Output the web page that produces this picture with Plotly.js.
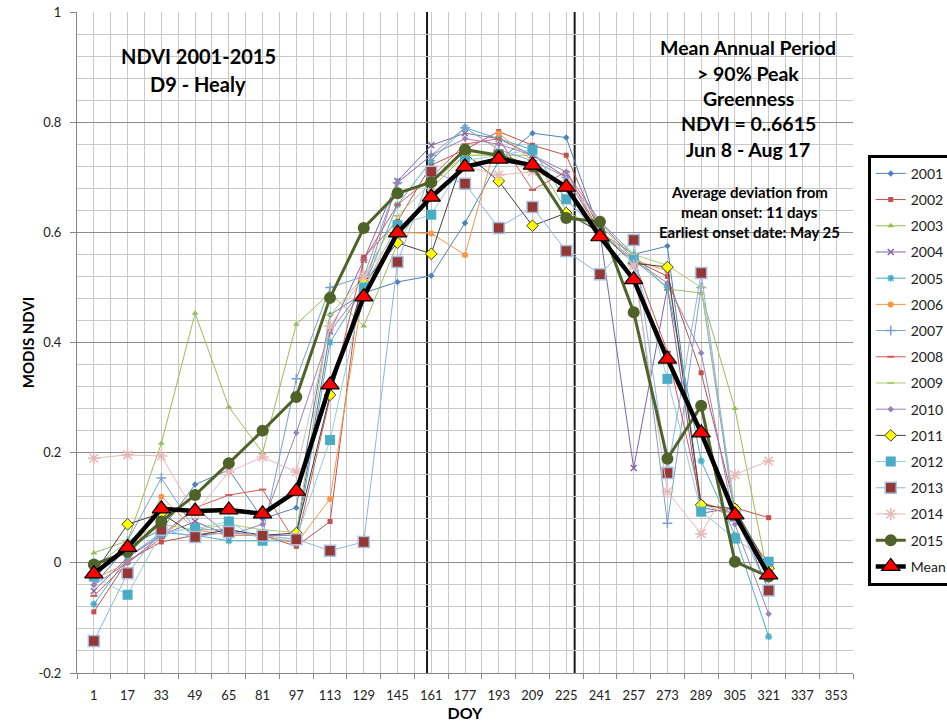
<!DOCTYPE html>
<html>
<head>
<meta charset="utf-8">
<script src="https://cdn.plot.ly/plotly-3.0.1.min.js"></script>
<style>
  html, body { margin: 0; padding: 0; background: #ffffff; }
  #chart { width: 947px; height: 725px; }
</style>
</head>
<body>
<div id="chart"></div>
<script>
// 16-day MODIS composites, day of year
const doy = [1, 17, 33, 49, 65, 81, 97, 113, 129, 145, 161, 177, 193, 209, 225, 241, 257, 273, 289, 305, 321];

// Category labels shown along the DOY axis
const xTickVals = [1, 17, 33, 49, 65, 81, 97, 113, 129, 145, 161, 177, 193, 209, 225, 241, 257, 273, 289, 305, 321, 337, 353];
const yTickVals = [-0.2, 0, 0.2, 0.4, 0.6, 0.8, 1];
const yTickText = ['-0.2', '0', '0.2', '0.4', '0.6', '0.8', '1'];

// NDVI per year
const ndvi2001 = [-0.04, 0.03, 0.06, 0.142, 0.169, 0.08, 0.10, 0.45, 0.49, 0.51, 0.521, 0.617, 0.73, 0.78, 0.772, 0.60, 0.56, 0.575, 0.10, 0.09, -0.02];
const ndvi2002 = [-0.089, 0.004, 0.038, 0.05, 0.055, 0.05, 0.03, 0.075, 0.555, 0.62, 0.722, 0.75, 0.783, 0.758, 0.74, 0.60, 0.55, 0.52, 0.345, 0.10, 0.082];
const ndvi2003 = [0.018, 0.04, 0.217, 0.453, 0.283, 0.20, 0.433, 0.49, 0.43, 0.58, 0.68, 0.74, 0.74, 0.74, 0.64, 0.60, 0.56, 0.497, 0.49, 0.28, -0.03];
const ndvi2004 = [-0.051, 0.01, 0.05, 0.075, 0.05, 0.05, 0.05, 0.42, 0.55, 0.693, 0.758, 0.78, 0.77, 0.74, 0.70, 0.60, 0.172, 0.50, 0.09, 0.10, -0.05];
const ndvi2005 = [-0.075, 0.01, 0.055, 0.05, 0.04, 0.04, 0.04, 0.40, 0.50, 0.65, 0.73, 0.79, 0.77, 0.75, 0.659, 0.60, 0.55, 0.50, 0.185, 0.05, -0.134];
const ndvi2006 = [-0.03, 0.0, 0.12, 0.06, 0.05, 0.05, 0.035, 0.116, 0.50, 0.60, 0.598, 0.559, 0.78, 0.73, 0.68, 0.60, 0.55, 0.53, 0.11, 0.08, 0.0];
const ndvi2007 = [-0.03, 0.04, 0.154, 0.06, 0.06, 0.05, 0.334, 0.50, 0.52, 0.69, 0.74, 0.79, 0.75, 0.73, 0.70, 0.62, 0.56, 0.072, 0.50, 0.08, -0.02];
const ndvi2008 = [-0.06, 0.0, 0.045, 0.10, 0.123, 0.133, 0.035, 0.30, 0.55, 0.65, 0.70, 0.76, 0.77, 0.677, 0.71, 0.60, 0.55, 0.383, 0.11, 0.09, -0.03];
const ndvi2009 = [-0.01, 0.04, 0.07, 0.06, 0.07, 0.06, 0.055, 0.45, 0.52, 0.63, 0.69, 0.74, 0.74, 0.72, 0.68, 0.61, 0.56, 0.54, 0.50, 0.10, -0.03];
const ndvi2010 = [-0.04, 0.0, 0.05, 0.10, 0.05, 0.07, 0.236, 0.42, 0.50, 0.69, 0.74, 0.77, 0.76, 0.74, 0.71, 0.62, 0.55, 0.508, 0.381, 0.07, -0.093];
const ndvi2011 = [-0.02, 0.07, 0.09, 0.05, 0.06, 0.05, 0.054, 0.305, 0.508, 0.581, 0.561, 0.744, 0.693, 0.612, 0.635, 0.60, 0.544, 0.537, 0.105, 0.098, -0.01];
const ndvi2012 = [-0.025, -0.058, 0.055, 0.062, 0.075, 0.04, 0.045, 0.223, 0.50, 0.613, 0.632, 0.73, 0.74, 0.75, 0.66, 0.60, 0.55, 0.334, 0.093, 0.044, 0.002];
const ndvi2013 = [-0.142, -0.019, 0.06, 0.047, 0.056, 0.049, 0.043, 0.022, 0.038, 0.546, 0.71, 0.688, 0.608, 0.646, 0.566, 0.524, 0.586, 0.163, 0.526, 0.085, -0.05];
const ndvi2014 = [0.19, 0.196, 0.194, 0.09, 0.165, 0.192, 0.165, 0.43, 0.52, 0.60, 0.67, 0.72, 0.704, 0.71, 0.69, 0.62, 0.54, 0.129, 0.053, 0.16, 0.185];
const ndvi2015 = [-0.003, 0.02, 0.075, 0.123, 0.181, 0.24, 0.301, 0.481, 0.608, 0.671, 0.691, 0.75, 0.74, 0.72, 0.626, 0.619, 0.455, 0.189, 0.285, 0.002, -0.025];
const ndviMean = [-0.02, 0.028, 0.098, 0.094, 0.096, 0.089, 0.13, 0.323, 0.483, 0.599, 0.664, 0.719, 0.733, 0.722, 0.682, 0.592, 0.514, 0.37, 0.236, 0.087, -0.022];

// Peak-greenness period boundaries (DOY of Jun 8 and Aug 17)
const periodStart = 159;
const periodEnd = 229;

const FONT = 'Lato, "Liberation Sans", Arial, sans-serif';

function yearTrace(name, y, lineColor, marker, lineWidth) {
  return {
    x: doy, y: y, name: name, legendgroup: name,
    type: 'scatter', mode: 'lines+markers',
    line: { color: lineColor, width: lineWidth || 1 },
    marker: marker,
    hoverinfo: 'x+y+name'
  };
}

const traces = [
  yearTrace('2001', ndvi2001, '#4F81BD', { symbol: 'diamond', size: 5, color: '#4F81BD' }),
  yearTrace('2002', ndvi2002, '#C0504D', { symbol: 'square', size: 5, color: '#C0504D' }),
  yearTrace('2003', ndvi2003, '#9BBB59', { symbol: 'triangle-up', size: 6, color: '#9BBB59' }),
  yearTrace('2004', ndvi2004, '#8064A2', { symbol: 'x-thin-open', size: 6, color: '#8064A2', line: { width: 1.5, color: '#8064A2' } }),
  yearTrace('2005', ndvi2005, '#4BACC6', { symbol: 'asterisk-open', size: 6, color: '#4BACC6', line: { width: 1.5, color: '#4BACC6' } }),
  yearTrace('2006', ndvi2006, '#F79646', { symbol: 'circle', size: 6, color: '#F79646' }),
  yearTrace('2007', ndvi2007, '#7BA0CD', { symbol: 'cross-thin-open', size: 7, color: '#7BA0CD', line: { width: 1.5, color: '#7BA0CD' } }),
  yearTrace('2008', ndvi2008, '#D45A57', { symbol: 'line-ew-open', size: 5, color: '#D45A57', line: { width: 2, color: '#D45A57' } }),
  yearTrace('2009', ndvi2009, '#AFCB73', { symbol: 'line-ew-open', size: 5, color: '#AFCB73', line: { width: 2, color: '#AFCB73' } }),
  yearTrace('2010', ndvi2010, '#9A80BA', { symbol: 'diamond', size: 5, color: '#9A80BA' }),
  yearTrace('2011', ndvi2011, '#404040', { symbol: 'diamond', size: 9, color: '#FFFF00', line: { width: 1, color: '#404040' } }),
  yearTrace('2012', ndvi2012, '#93CDDD', { symbol: 'square', size: 10, color: '#4BACC6' }),
  yearTrace('2013', ndvi2013, '#8EB4E3', { symbol: 'square', size: 11, color: '#953735', line: { width: 1.5, color: '#A8C0E0' } }),
  yearTrace('2014', ndvi2014, '#E6B9B8', { symbol: 'asterisk-open', size: 10, color: '#E6B9B8', line: { width: 1.5, color: '#E6B9B8' } }),
  yearTrace('2015', ndvi2015, '#4F6228', { symbol: 'circle', size: 12, color: '#4F6228' }, 3),
  yearTrace('Mean', ndviMean, '#000000', { symbol: 'triangle-up', size: 16, color: '#FF0000', line: { width: 1.2, color: '#000000' } }, 4.5)
];

const gridLight = '#C8C8C8';
const gridDark = '#8C8C8C';

// Text boxes placed in paper coordinates
function note(text, x, y, size) {
  return {
    text: text, xref: 'paper', yref: 'paper', x: x, y: y,
    xanchor: 'center', yanchor: 'middle', showarrow: false,
    font: { family: FONT, size: size, color: '#000000', weight: 'bold' }
  };
}

const layout = {
  width: 947, height: 725,
  margin: { l: 77, r: 94, t: 12, b: 52, autoexpand: false },
  paper_bgcolor: '#ffffff', plot_bgcolor: '#ffffff',
  font: { family: FONT, size: 13, color: '#222222' },
  showlegend: true,
  legend: {
    x: 1.019, y: 0.784, xanchor: 'left', yanchor: 'top',
    bordercolor: '#000000', borderwidth: 3, bgcolor: '#ffffff',
    font: { family: FONT, size: 14, color: '#222222' },
    tracegroupgap: 5, itemwidth: 30
  },
  xaxis: {
    range: [-7, 361],
    tickmode: 'array', tickvals: xTickVals, ticktext: xTickVals.map(String),
    ticks: '', ticklabelstandoff: 10,
    showgrid: true, gridcolor: gridLight, gridwidth: 1,
    minor: { tickmode: 'linear', tick0: 9, dtick: 16, ticks: 'outside', ticklen: 5, tickcolor: '#868686', showgrid: true, gridcolor: gridLight, gridwidth: 1 },
    showline: true, linecolor: '#868686', linewidth: 1,
    zeroline: false, fixedrange: true,
    tickfont: { family: FONT, size: 13, color: '#222222' },
    title: { text: 'DOY', font: { family: FONT, size: 16, color: '#000000', weight: 'bold' }, standoff: 5 }
  },
  yaxis: {
    range: [-0.2, 1],
    tickmode: 'array', tickvals: yTickVals, ticktext: yTickText,
    ticks: 'outside', ticklen: 6, tickcolor: '#868686', ticklabelstandoff: 6,
    showgrid: true, gridcolor: gridDark, gridwidth: 1,
    minor: { tickmode: 'linear', tick0: 0, dtick: 0.04, showgrid: true, gridcolor: gridLight, gridwidth: 1 },
    showline: true, linecolor: '#868686', linewidth: 1,
    zeroline: false, fixedrange: true,
    tickfont: { family: FONT, size: 13, color: '#222222' },
    title: { text: 'MODIS NDVI', font: { family: FONT, size: 15, color: '#000000', weight: 'bold' }, standoff: 0 }
  },
  shapes: [
    { type: 'line', xref: 'x', yref: 'paper', x0: periodStart, x1: periodStart, y0: 0, y1: 1, line: { color: '#1a1a1a', width: 2 }, layer: 'between' },
    { type: 'line', xref: 'x', yref: 'paper', x0: periodEnd, x1: periodEnd, y0: 0, y1: 1, line: { color: '#1a1a1a', width: 2 }, layer: 'between' }
  ],
  annotations: [
    note('NDVI 2001-2015', 0.156, 0.9334, 20),
    note('D9 - Healy', 0.156, 0.891, 20),
    note('Mean Annual Period', 0.8647, 0.947, 19.5),
    note('> 90% Peak', 0.8647, 0.9077, 19.5),
    note('Greenness', 0.8647, 0.8684, 19.5),
    note('NDVI = 0..6615', 0.8647, 0.8306, 19.5),
    note('Jun 8 - Aug 17', 0.8647, 0.7927, 19.5),
    note('Average deviation from', 0.866, 0.7277, 15),
    note('mean onset: 11 days', 0.866, 0.6974, 15),
    note('Earliest onset date: May 25', 0.866, 0.6672, 15)
  ]
};

Plotly.newPlot('chart', traces, layout, { displayModeBar: false, staticPlot: true });
</script>
</body>
</html>
